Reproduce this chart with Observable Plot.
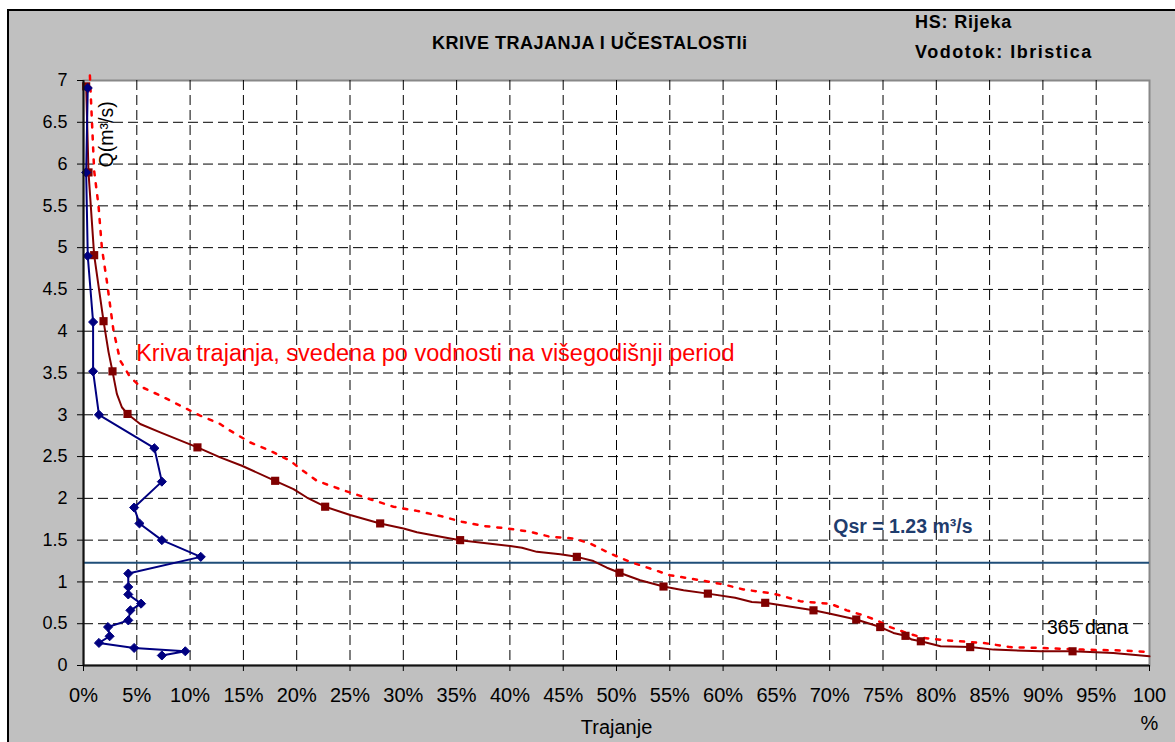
<!DOCTYPE html>
<html><head><meta charset="utf-8">
<script src="https://cdn.jsdelivr.net/npm/d3@7"></script>
<script src="https://cdn.jsdelivr.net/npm/@observablehq/plot@0.6"></script>
<style>
body{margin:0;background:#fff;font-family:"Liberation Sans",Arial,sans-serif;}
#wrap{position:relative;width:1175px;height:742px;overflow:hidden;background:#fff;}
#panel{position:absolute;left:7px;top:9px;width:1200px;height:760px;background:#c0c0c0;border-left:2px solid #000;border-top:2px solid #000;}
.t{position:absolute;font-weight:bold;color:#000;white-space:nowrap;line-height:1;}
#chart{position:absolute;left:0;top:60px;}
</style></head>
<body><div id="wrap"><div id="panel"></div>
<div class="t" style="left:432px;top:34px;font-size:18px;letter-spacing:0.5px">KRIVE TRAJANJA I UČESTALOSTIi</div>
<div class="t" style="left:915px;top:13px;font-size:18px;letter-spacing:0.8px">HS: Rijeka</div>
<div class="t" style="left:915px;top:43px;font-size:18px;letter-spacing:1.5px">Vodotok: Ibristica</div>
<div id="chart"></div>
</div>
<script>
// Frequency curve (učestalost), % of time vs Q
const ucestalostPct = [0.4, 0.25, 0.4, 0.9, 0.9, 1.45, 6.65, 7.35, 4.75, 5.25, 7.35, 11.0, 4.2, 4.2, 4.2, 5.4, 4.4, 4.2, 2.3, 2.45, 1.45, 4.75, 9.55, 7.35];
const ucestalostQ   = [6.91, 5.90, 4.90, 4.11, 3.52, 3.00, 2.60, 2.20, 1.89, 1.70, 1.50, 1.30, 1.10, 0.94, 0.85, 0.74, 0.66, 0.54, 0.46, 0.35, 0.27, 0.21, 0.17, 0.12];

// Duration curve markers
const trajanjeMarkPct = [0.25, 0.47, 1.0, 1.88, 2.72, 4.13, 10.69, 17.98, 22.67, 27.83, 35.33, 46.28, 50.28, 54.41, 58.57, 63.95, 68.48, 72.49, 74.74, 77.11, 78.55, 83.18, 92.78];
const trajanjeMarkQ   = [6.93, 5.90, 4.91, 4.12, 3.52, 3.01, 2.61, 2.21, 1.90, 1.70, 1.50, 1.30, 1.11, 0.945, 0.86, 0.75, 0.66, 0.55, 0.46, 0.355, 0.29, 0.22, 0.17];

// Duration curve line (detailed)
const trajanjeLinePct = [0.25, 0.47, 1.0, 1.88, 2.35, 2.72, 3.13, 3.6, 4.13, 5.32, 7.2, 10.69, 12.82, 14.86, 17.98, 19.7, 20.96, 22.67, 25.02, 27.83, 30.02, 31.28, 33.77, 35.33, 40.03, 41.13, 42.53, 44.72, 46.28, 47.84, 49.1, 50.28, 52.22, 54.41, 56.29, 58.57, 61.13, 62.7, 63.95, 68.48, 70.05, 72.49, 74.74, 75.98, 77.11, 77.7, 78.55, 80.4, 83.18, 85.37, 89.75, 92.78, 96.6, 100];
const trajanjeLineQ   = [6.93, 5.90, 4.91, 4.12, 3.75, 3.52, 3.25, 3.09, 3.01, 2.89, 2.79, 2.61, 2.49, 2.39, 2.21, 2.11, 2.01, 1.90, 1.80, 1.70, 1.64, 1.595, 1.535, 1.50, 1.43, 1.41, 1.36, 1.33, 1.30, 1.25, 1.17, 1.11, 1.02, 0.945, 0.90, 0.86, 0.81, 0.76, 0.75, 0.66, 0.62, 0.55, 0.46, 0.39, 0.355, 0.31, 0.29, 0.23, 0.22, 0.19, 0.17, 0.17, 0.15, 0.11];

// Duration curve reduced to multi-year period (dotted)
const svedenaPct = [0.6, 1.0, 1.41, 1.73, 2.2, 2.81, 3.44, 4.38, 5.32, 7.2, 9.07, 10.95, 12.82, 13.76, 15.63, 17.5, 19.39, 20.17, 21.89, 24.08, 26.89, 29.08, 31.28, 33.46, 35.5, 37.52, 39.72, 41.9, 43.78, 45.97, 47.53, 49.4, 51.28, 53.16, 55.03, 56.9, 58.78, 60.04, 61.91, 64.42, 65.35, 67.23, 68.8, 70.05, 71.61, 73.17, 74.42, 75.67, 77.23, 78.8, 80.99, 84.43, 86.93, 89.75, 93.8, 97.56, 100];
const svedenaQ   = [7.06, 5.92, 5.50, 4.99, 4.59, 4.01, 3.65, 3.45, 3.34, 3.23, 3.11, 2.99, 2.89, 2.81, 2.67, 2.57, 2.45, 2.37, 2.21, 2.11, 1.99, 1.90, 1.85, 1.79, 1.72, 1.67, 1.64, 1.60, 1.54, 1.52, 1.46, 1.34, 1.24, 1.16, 1.08, 1.04, 1.00, 0.97, 0.91, 0.865, 0.84, 0.77, 0.75, 0.74, 0.66, 0.60, 0.54, 0.46, 0.39, 0.33, 0.30, 0.27, 0.22, 0.21, 0.19, 0.18, 0.16];

const qsr = 1.23;
const xTicks = d3.range(0, 101, 5);
const yTicks = d3.range(0, 7.01, 0.5);

const ucest = ucestalostPct.map((p, i) => ({p, q: ucestalostQ[i]}));
const trajMarks = trajanjeMarkPct.map((p, i) => ({p, q: trajanjeMarkQ[i]}));
const trajLine = trajanjeLinePct.map((p, i) => ({p, q: trajanjeLineQ[i]}));
const sved = svedenaPct.map((p, i) => ({p, q: svedenaQ[i]}));

const font = "'Liberation Sans', Arial, sans-serif";
const dash = {stroke: "#000", strokeOpacity: 1, strokeWidth: 1, strokeDasharray: "10,5"};

const chart = Plot.plot({
  width: 1175, height: 682,
  marginLeft: 83, marginRight: 26, marginTop: 20, marginBottom: 77,
  style: {background: "transparent", fontFamily: font, color: "#000", overflow: "visible"},
  x: {domain: [0, 100]},
  y: {domain: [0, 7]},
  marks: [
    Plot.frame({fill: "white", stroke: "#888", strokeWidth: 2}),
    Plot.gridX(xTicks.filter(d => d > 0 && d < 100), dash),
    Plot.gridY(yTicks.filter(d => d > 0 && d < 7), dash),
    Plot.ruleY([qsr], {stroke: "#1f4e79", strokeWidth: 2}),
    Plot.line(sved, {x: "p", y: "q", stroke: "#ff0000", strokeWidth: 2.5, strokeDasharray: "4,8"}),
    Plot.line(trajLine, {x: "p", y: "q", stroke: "#800000", strokeWidth: 2}),
    Plot.dot(trajMarks, {x: "p", y: "q", symbol: "square", fill: "#800000", r: 4.6}),
    Plot.line(ucest, {x: "p", y: "q", stroke: "#000080", strokeWidth: 2}),
    Plot.dot(ucest, {x: "p", y: "q", symbol: "diamond2", fill: "#000080", stroke: "#000080", strokeWidth: 1, r: 4.1}),
    Plot.ruleX([0], {stroke: "#111", strokeWidth: 2}),
    Plot.ruleY([0], {stroke: "#111", strokeWidth: 2}),
    Plot.axisX(xTicks, {tickSize: 6, tickPadding: 16, fontSize: 20, label: null,
      tickFormat: d => d === 100 ? "100" : d + "%"}),
    Plot.text(["%"], {x: () => 100, frameAnchor: "bottom", dy: 58, lineAnchor: "middle", fontSize: 20, text: d => d}),
    Plot.axisY(yTicks, {tickSize: 6, tickPadding: 10, fontSize: 18, label: null,
      tickFormat: d => String(d)}),
    Plot.text(["Trajanje"], {frameAnchor: "bottom", dy: 62, lineAnchor: "middle", fontSize: 20, text: d => d}),
    Plot.text(["Q(m³/s)"], {x: () => 2.75, y: () => 5.96, rotate: -90, textAnchor: "start", lineAnchor: "bottom", fontSize: 19.5, text: d => d}),
    Plot.text(["Kriva trajanja, svedena po vodnosti na višegodišnji period"], {x: () => 4.94, y: () => 3.64, textAnchor: "start", lineAnchor: "bottom", fontSize: 23.5, fill: "#ff0000", text: d => d}),
    Plot.text(["Qsr = 1.23 m³/s"], {x: () => 70.33, y: () => 1.58, textAnchor: "start", lineAnchor: "bottom", fontSize: 19.5, fontWeight: "bold", fill: "#1f3d6e", text: d => d}),
    Plot.text(["365 dana"], {x: () => 90.38, y: () => 0.38, textAnchor: "start", lineAnchor: "bottom", fontSize: 19.5, fill: "#000", text: d => d})
  ]
});
document.getElementById("chart").appendChild(chart);
</script>
</body></html>
